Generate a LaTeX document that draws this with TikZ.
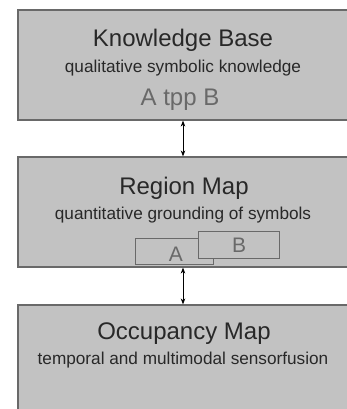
\documentclass[tikz,border=0pt]{standalone}
\usepackage{fontspec}
\setmainfont{Liberation Sans}
\usetikzlibrary{arrows.meta}
\definecolor{layerfill}{RGB}{194,194,194}
\definecolor{layerdraw}{RGB}{105,105,105}
\definecolor{titletext}{RGB}{40,40,40}
\definecolor{symtext}{RGB}{105,105,105}
\tikzset{
  layer/.style={draw=layerdraw, fill=layerfill, line width=1.2pt, rectangle,
    minimum width=332pt, minimum height=110pt, inner sep=0pt},
  title/.style={text=titletext, font=\fontsize{24}{26}\selectfont, inner sep=0pt},
  subtitle/.style={text=titletext, font=\fontsize{17.2}{19}\selectfont, inner sep=0pt},
  symbol/.style={text=symtext, font=\fontsize{24}{26}\selectfont, inner sep=0pt},
  region/.style={draw=symtext, fill=layerfill, line width=0.9pt, rectangle, inner sep=0pt},
  link/.style={{Stealth[length=6pt,width=4.5pt]}-{Stealth[length=6pt,width=4.5pt]}, line width=0.7pt, black}
}
\begin{document}
\begin{tikzpicture}[x=1pt,y=-1pt]
\useasboundingbox (0,0) rectangle (346,409);
\fill[white] (0,0) rectangle (346,409);

% three layers
\node[layer] (kb) at (184,65) {};
\node[layer] (rm) at (184,212) {};
\node[layer] (om) at (184,360) {};

% knowledge base
\node[title] (kbt) at (183,40) {Knowledge Base};
\node[subtitle] (kbs) at (183,68) {qualitative symbolic knowledge};
\node[symbol] (kbr) at (180,100) {A tpp B};

% region map
\node[title] (rmt) at (184,188) {Region Map};
\node[subtitle] (rms) at (183,215) {quantitative grounding of symbols};
\node[region, minimum width=78pt, minimum height=26pt] (ra) at (174,251) {};
\node[region, minimum width=81pt, minimum height=27pt] (rb) at (238.5,244.5) {};
\node[symbol, font=\fontsize{21}{23}\selectfont] (la) at (176,254) {A};
\node[symbol, font=\fontsize{21}{23}\selectfont] (lb) at (239,245) {B};

% occupancy map
\node[title] (omt) at (184,334) {Occupancy Map};
\node[subtitle] (oms) at (183,360) {temporal and multimodal sensorfusion};

% links between layers
\draw[link] ([xshift=-1pt]kb.south) -- ([xshift=-1pt]rm.north);
\draw[link] ([xshift=-1pt]rm.south) -- ([xshift=-1pt]om.north);
\end{tikzpicture}
\end{document}
